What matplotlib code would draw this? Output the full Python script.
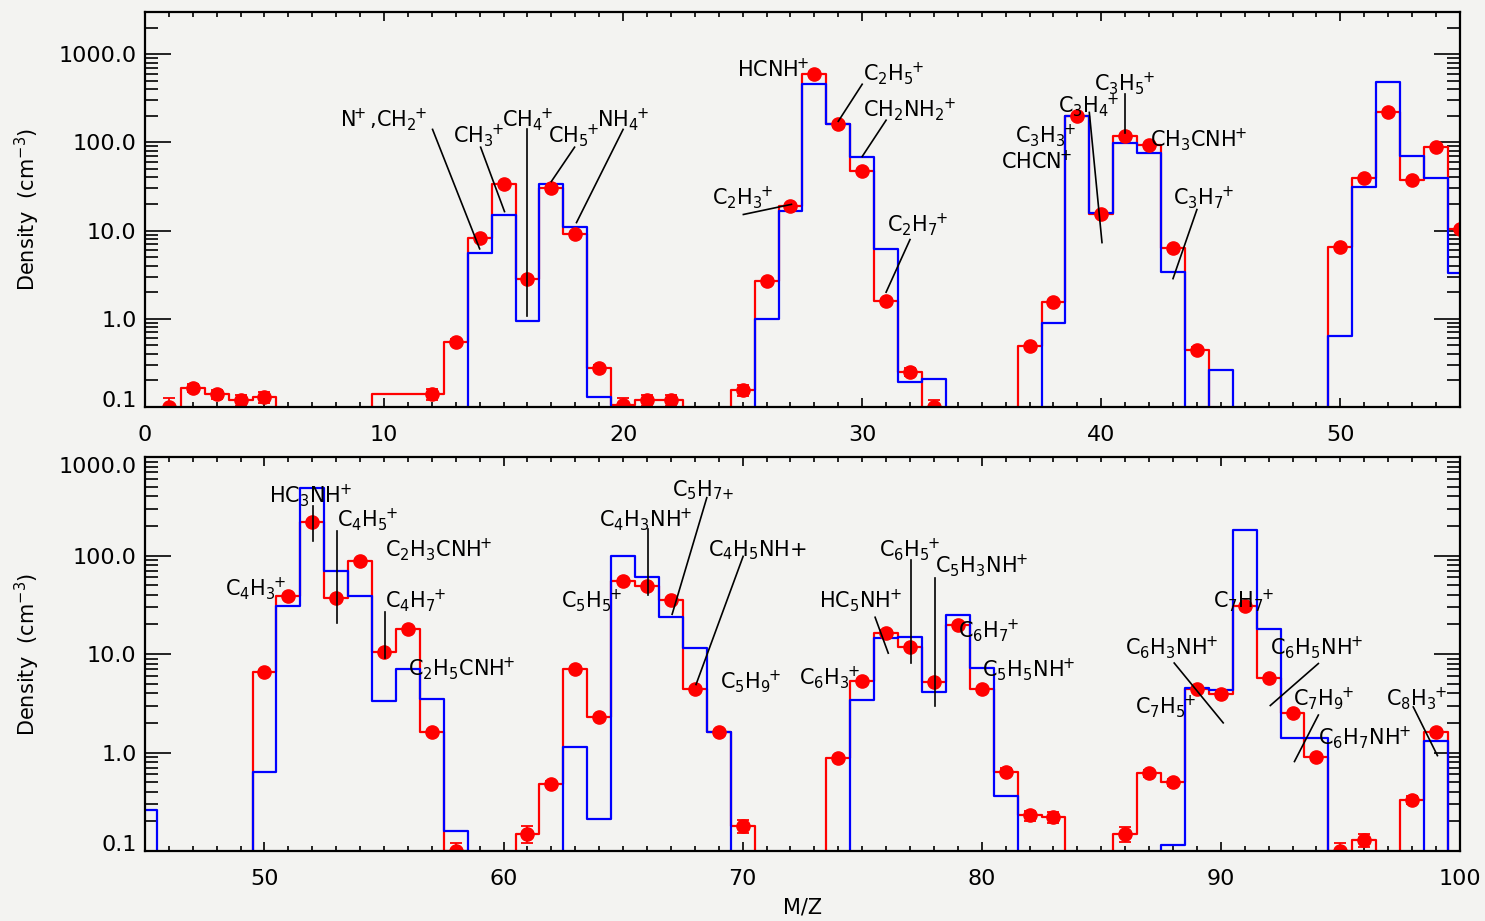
import numpy as np
import matplotlib
matplotlib.use("Agg")
import matplotlib.pyplot as plt
from matplotlib.ticker import FixedLocator, FixedFormatter, MultipleLocator, LogLocator, NullFormatter

plt.rcParams['font.family'] = ['DejaVu Sans']
plt.rcParams['mathtext.default'] = 'regular'

mass = np.arange(1, 101)

# measured ion densities (cm^-3), one value per M/Z; None = no measurement
measured = [
    0.1, 0.165, 0.14, 0.12, 0.13, None, None, None, None, None,
    None, 0.14, 0.55, 8.3, 34, 2.8, 30, 9.2, 0.28, 0.105,
    0.12, 0.12, None, None, 0.155, 2.7, 19, 590, 160, 47,
    1.6, 0.25, 0.1, None, None, None, 0.49, 1.56, 200, 15.5,
    118, 92, 6.4, 0.44, None, None, None, None, None, 6.5,
    39, 218, 37, 88, 10.5, 17.8, 1.6, 0.1, None, None,
    0.15, 0.48, 7.1, 2.3, 55, 49, 35, 4.4, 1.6, 0.18,
    None, None, None, 0.87, 5.3, 16.5, 11.8, 5.2, 19.6, 4.4,
    0.64, 0.23, 0.22, None, None, 0.15, 0.62, 0.5, 4.4, 3.9,
    31, 5.7, 2.5, 0.89, 0.1, 0.13, None, 0.33, 1.6, None,
]

# relative uncertainty of each measured point
measured_err = [
    0.25, 0.1, 0.12, 0.15, 0.15, 0, 0, 0, 0, 0,
    0, 0.15, 0.06, 0.05, 0.05, 0.05, 0.05, 0.05, 0.08, 0.2,
    0.15, 0.15, 0, 0, 0.15, 0.05, 0.05, 0.05, 0.05, 0.05,
    0.05, 0.1, 0.2, 0, 0, 0, 0.06, 0.05, 0.05, 0.05,
    0.05, 0.05, 0.05, 0.08, 0, 0, 0, 0, 0, 0.05,
    0.05, 0.05, 0.05, 0.05, 0.05, 0.05, 0.06, 0.2, 0, 0,
    0.2, 0.08, 0.05, 0.05, 0.05, 0.05, 0.05, 0.05, 0.06, 0.15,
    0, 0, 0, 0.06, 0.05, 0.05, 0.05, 0.05, 0.05, 0.05,
    0.08, 0.12, 0.12, 0, 0, 0.18, 0.08, 0.08, 0.05, 0.05,
    0.05, 0.05, 0.05, 0.06, 0.2, 0.15, 0, 0.1, 0.05, 0,
]

# histogram of the measurement (red)
measured_hist = [
    None, 0.165, 0.14, 0.12, 0.13, None, None, None, None, 0.14,
    0.14, 0.14, 0.55, 8.3, 34, 2.8, 30, 9.2, 0.28, 0.105,
    0.12, 0.12, None, None, 0.155, 2.7, 19, 590, 160, 47,
    1.6, 0.25, None, None, None, None, 0.49, 1.56, 200, 15.5,
    118, 92, 6.4, 0.44, None, None, None, None, None, 6.5,
    39, 218, 37, 88, 10.5, 17.8, 1.6, 0.1, None, None,
    0.15, 0.48, 7.1, 2.3, 55, 49, 35, 4.4, 1.6, 0.18,
    None, None, None, 0.87, 5.3, 16.5, 11.8, 5.2, 19.6, 4.4,
    0.64, 0.23, 0.22, None, None, 0.15, 0.62, 0.5, 4.4, 3.9,
    31, 5.7, 2.5, 0.89, 0.1, 0.13, None, 0.33, 1.6, None,
]

# model densities (blue)
model = [
    None, None, None, None, None, None, None, None, None, None,
    None, None, None, 5.5, 15, 0.95, 34, 11, 0.13, None,
    None, None, None, None, None, 1.0, 16.5, 455, 160, 69,
    6.2, 0.19, 0.21, None, None, None, None, 0.9, 200, 16,
    97, 75, 3.4, None, 0.26, None, None, None, None, 0.63,
    31, 480, 70, 39, 3.3, 7.0, 3.5, 0.16, None, None,
    None, None, 1.15, 0.21, 100, 61, 23.6, 11.5, 1.6, None,
    None, None, None, None, 3.4, 14.5, 15, 4.1, 25, 7.2,
    0.36, None, None, None, None, None, None, 0.115, 4.5, 4.3,
    183, 18, 1.4, 1.4, None, None, None, None, 1.3, None,
]

# species labels: text, text anchor (left, baseline), optional leader line
top_labels = [
    ('$N^+$,$CH_2{}^+$', (8.16, 152), ((12.03, 140), (14.0, 6.2))),
    ('$CH_3{}^+$', (12.88, 100), ((14.04, 88), (15.04, 16.4))),
    ('$CH_4{}^+$', (14.93, 152), ((16.0, 140), (16.0, 1.08))),
    ('$CH_5{}^+$', (16.85, 100), ((17.97, 88), (17.0, 36))),
    ('$NH_4{}^+$', (18.9, 152), ((20.0, 140), (18.05, 12.3))),
    ('$HCNH^+$', (24.76, 550), None),
    ('$C_2H_5{}^+$', (30.03, 500), ((30.0, 455), (29.0, 173))),
    ('$CH_2NH_2{}^+$', (30.03, 198), ((31.0, 178), (30.0, 69))),
    ('$C_2H_3{}^+$', (23.71, 19.7), ((25.03, 15.2), (27.04, 19.8))),
    ('$C_2H_7{}^+$', (31.03, 9.8), ((32.0, 7.9), (31.0, 2.0))),
    ('$C_3H_3{}^+$', (36.39, 100), None),
    ('$CHCN^+$', (35.8, 50), None),
    ('$C_3H_4{}^+$', (38.18, 219), ((39.5, 218), (40.03, 7.3))),
    ('$C_3H_5{}^+$', (39.69, 390), ((41.0, 350), (41.0, 129))),
    ('$CH_3CNH^+$', (42.03, 90), None),
    ('$C_3H_7{}^+$', (43.0, 19.7), ((44.0, 17.3), (43.0, 2.85))),
]

bottom_labels = [
    ('$HC_3NH^+$', (50.19, 343), ((52.03, 320), (52.03, 141))),
    ('$C_4H_5{}^+$', (53.03, 196), ((53.03, 178), (53.03, 20.5))),
    ('$C_2H_3CNH^+$', (55.04, 98), None),
    ('$C_4H_3{}^+$', (48.35, 39.5), None),
    ('$C_4H_7{}^+$', (55.04, 30), ((55.04, 26.6), (55.04, 9.1))),
    ('$C_2H_5CNH^+$', (56.0, 6.0), None),
    ('$C_5H_{7{+}}$', (67.04, 396), ((68.5, 386), (67.05, 25.3))),
    ('$C_4H_3NH^+$', (63.99, 196), ((66.05, 187), (66.05, 40))),
    ('$C_4H_5NH$+', (68.55, 98), ((70.02, 98), (68.05, 4.9))),
    ('$C_5H_5{}^+$', (62.4, 30), None),
    ('$C_5H_9{}^+$', (69.05, 4.5), None),
    ('$C_6H_3{}^+$', (72.35, 4.9), None),
    ('$HC_5NH^+$', (73.19, 30), ((75.54, 23.6), (76.09, 10.2))),
    ('$C_6H_5{}^+$', (75.7, 98), ((77.05, 89), (77.05, 8.1))),
    ('$C_5H_3NH^+$', (78.04, 67), ((78.05, 58.5), (78.05, 3.0))),
    ('$C_6H_7{}^+$', (79.0, 14.8), None),
    ('$C_5H_5NH^+$', (80.0, 5.85), None),
    ('$C_6H_3NH^+$', (86.0, 10), ((88.05, 8.1), (90.1, 2.0))),
    ('$C_7H_5{}^+$', (86.4, 2.5), None),
    ('$C_7H_7{}^+$', (89.67, 30), None),
    ('$C_6H_5NH^+$', (92.05, 10), ((94.08, 8.0), (92.07, 3.0))),
    ('$C_7H_9{}^+$', (93.0, 3.0), ((94.08, 2.4), (93.08, 0.81))),
    ('$C_6H_7NH^+$', (94.06, 1.2), None),
    ('$C_8H_3{}^+$', (96.9, 3.0), ((98.05, 2.9), (99.06, 0.93))),
]

BG = '#f3f3f1'
FLOOR = 1e-3  # empty bins drop below the axis


def as_hist(vals):
    return np.array([FLOOR if v is None else v for v in vals])


def draw_panel(ax, xlim, ylim, labels):
    ax.set_facecolor(BG)
    ax.step(mass, as_hist(measured_hist), where='mid', color='red', lw=1.6, zorder=2)
    ax.step(mass, as_hist(model), where='mid', color='blue', lw=1.6, zorder=3)

    pts = [(m, v, e) for m, v, e in zip(mass, measured, measured_err) if v is not None]
    x, y, e = (np.array(c) for c in zip(*pts))
    ax.errorbar(x, y, yerr=y * e, fmt='o', color='red', ms=9.5, elinewidth=1.3,
                capsize=4, capthick=1.3, zorder=4)

    for text, (tx, ty), line in labels:
        # pull the charge sign in tight against the preceding glyph
        text = text.replace('^+', r'^{\!\!+}')
        ax.text(tx, ty, text, fontsize=15, ha='left', va='baseline', zorder=6)
        if line is not None:
            (x0, y0), (x1, y1) = line
            ax.plot([x0, x1], [y0, y1], color='black', lw=1.2, zorder=5)

    ax.set_yscale('log')
    ax.set_xlim(*xlim)
    ax.set_ylim(*ylim)

    ax.yaxis.set_major_locator(FixedLocator([0.1, 1, 10, 100, 1000]))
    ax.yaxis.set_major_formatter(FixedFormatter(['0.1', '1.0', '10.0', '100.0', '1000.0']))
    ax.yaxis.set_minor_locator(LogLocator(base=10, subs=np.arange(2, 10), numticks=20))
    ax.yaxis.set_minor_formatter(NullFormatter())
    ax.xaxis.set_major_locator(MultipleLocator(10))
    ax.xaxis.set_minor_locator(MultipleLocator(1))

    ax.tick_params(which='both', direction='in', top=True, right=True,
                   labelsize=16, width=1.2, color='black')
    ax.tick_params(axis='y', which='major', length=19, pad=6)
    ax.tick_params(axis='y', which='minor', length=9.5)
    ax.tick_params(axis='x', which='major', length=6.5, pad=13)
    ax.tick_params(axis='x', which='minor', length=3.3)

    for sp in ax.spines.values():
        sp.set_linewidth(1.6)
        sp.set_zorder(10)

    ax.set_ylabel('Density  (cm$^{-3}$)', fontsize=15)
    ax.yaxis.set_label_coords(-0.078, 0.5)


fig = plt.figure(figsize=(14.85, 9.21), dpi=100, facecolor=BG)
ax_top = fig.add_axes([0.0976, 0.5581, 0.8855, 0.4289])
ax_bot = fig.add_axes([0.0976, 0.0760, 0.8855, 0.4278])

draw_panel(ax_top, (0, 55), (0.1, 3000), top_labels)
draw_panel(ax_bot, (45, 100), (0.1, 1000), bottom_labels)
ax_bot.set_xlabel('M/Z', fontsize=15, labelpad=6)

# keep the end labels inside the frame
ax_top.yaxis.get_major_ticks()[0].label1.set_va('baseline')
bot_ticks = ax_bot.yaxis.get_major_ticks()
bot_ticks[0].label1.set_va('baseline')
bot_ticks[4].label1.set_va('top')

fig.savefig('out.png', dpi=100, facecolor=BG)
